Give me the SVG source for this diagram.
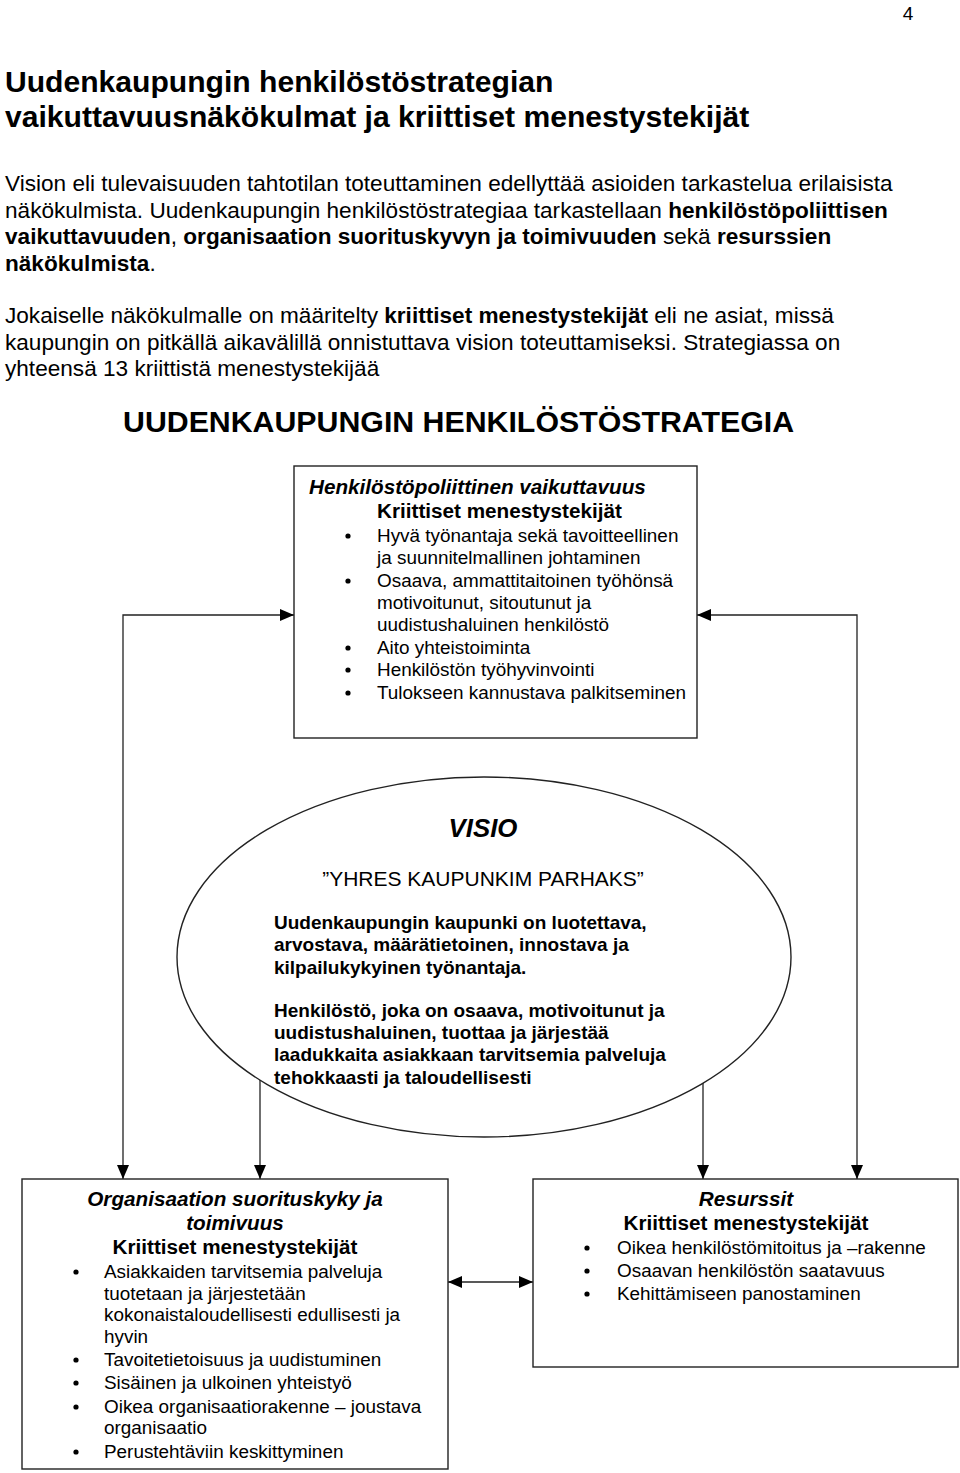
<svg xmlns="http://www.w3.org/2000/svg" width="960" height="1473" viewBox="0 0 960 1473">
<style>
text{font-family:"Liberation Sans",Arial,"DejaVu Sans",sans-serif;fill:#000}
.b{font-weight:bold}
.i{font-style:italic}
.title{font-size:30.1px;font-weight:bold}
.body{font-size:22.6px}
.hd{font-size:30.3px;font-weight:bold}
.bx{font-size:18.9px}
.bh{font-size:20.7px;font-weight:bold}
.vb{font-size:19px;font-weight:bold}
.box{fill:#fff;stroke:#222;stroke-width:1.4}
.dot{fill:#000}
.con{fill:none;stroke:#222;stroke-width:1.3}
</style>
<defs>
<marker id="arr" viewBox="0 0 14 12" markerWidth="14" markerHeight="12" refX="14" refY="6" orient="auto-start-reverse" markerUnits="userSpaceOnUse">
<path d="M0,0 L14,6 L0,12 z" fill="#000"/>
</marker>
</defs>
<rect width="960" height="1473" fill="#fff"/>

<g id="page-number"><text x="908" y="20" font-size="19" text-anchor="middle">4</text></g>

<g id="title">
<text class="title" x="5" y="92">Uudenkaupungin henkilöstöstrategian</text>
<text class="title" x="5" y="127">vaikuttavuusnäkökulmat ja kriittiset menestystekijät</text>
</g>

<g id="intro">
<text class="body" x="5" y="191">Vision eli tulevaisuuden tahtotilan toteuttaminen edellyttää asioiden tarkastelua erilaisista</text>
<text class="body" x="5" y="217.5">näkökulmista. Uudenkaupungin henkilöstöstrategiaa tarkastellaan <tspan class="b">henkilöstöpoliittisen</tspan></text>
<text class="body" x="5" y="244"><tspan class="b">vaikuttavuuden</tspan>, <tspan class="b">organisaation suorituskyvyn ja toimivuuden</tspan> sekä <tspan class="b">resurssien</tspan></text>
<text class="body" x="5" y="270.5"><tspan class="b">näkökulmista</tspan>.</text>
<text class="body" x="5" y="323">Jokaiselle näkökulmalle on määritelty <tspan class="b">kriittiset menestystekijät</tspan> eli ne asiat, missä</text>
<text class="body" x="5" y="349.5">kaupungin on pitkällä aikavälillä onnistuttava vision toteuttamiseksi. Strategiassa on</text>
<text class="body" x="5" y="376">yhteensä 13 kriittistä menestystekijää</text>
</g>

<g id="heading"><text class="hd" x="123" y="432">UUDENKAUPUNGIN HENKILÖSTÖSTRATEGIA</text></g>

<g id="connectors">
<path class="con" d="M294,615 L123,615 L123,1179" marker-start="url(#arr)" marker-end="url(#arr)"/>
<path class="con" d="M697,615 L857,615 L857,1179" marker-start="url(#arr)" marker-end="url(#arr)"/>
<path class="con" d="M260,1080 L260,1179" marker-end="url(#arr)"/>
<path class="con" d="M703,1083 L703,1179" marker-end="url(#arr)"/>
<path class="con" d="M448,1282 L533,1282" marker-start="url(#arr)" marker-end="url(#arr)"/>
</g>

<g id="node-henkilostopoliittinen">
<rect class="box" x="294" y="466" width="403" height="272"/>
<text class="bh i" x="309" y="494">Henkilöstöpoliittinen vaikuttavuus</text>
<text class="bh" x="377" y="518">Kriittiset menestystekijät</text>
<circle class="dot" cx="348" cy="536" r="2.6"/>
<text class="bx" x="377" y="542">Hyvä työnantaja sekä tavoitteellinen</text>
<text class="bx" x="377" y="564">ja suunnitelmallinen johtaminen</text>
<circle class="dot" cx="348" cy="581" r="2.6"/>
<text class="bx" x="377" y="587">Osaava, ammattitaitoinen työhönsä</text>
<text class="bx" x="377" y="609">motivoitunut, sitoutunut ja</text>
<text class="bx" x="377" y="631">uudistushaluinen henkilöstö</text>
<circle class="dot" cx="348" cy="648" r="2.6"/>
<text class="bx" x="377" y="654">Aito yhteistoiminta</text>
<circle class="dot" cx="348" cy="670" r="2.6"/>
<text class="bx" x="377" y="676">Henkilöstön työhyvinvointi</text>
<circle class="dot" cx="348" cy="693" r="2.6"/>
<text class="bx" x="377" y="699">Tulokseen kannustava palkitseminen</text>
</g>

<g id="node-visio">
<ellipse cx="484" cy="957" rx="307" ry="180" fill="none" stroke="#222" stroke-width="1.4"/>
<text class="b i" font-size="25.8" x="483" y="837" text-anchor="middle">VISIO</text>
<text font-size="21" x="483" y="886" text-anchor="middle">”YHRES KAUPUNKIM PARHAKS”</text>
<text class="vb" x="274" y="929">Uudenkaupungin kaupunki on luotettava,</text>
<text class="vb" x="274" y="951">arvostava, määrätietoinen, innostava ja</text>
<text class="vb" x="274" y="974">kilpailukykyinen työnantaja.</text>
<text class="vb" x="274" y="1017">Henkilöstö, joka on osaava, motivoitunut ja</text>
<text class="vb" x="274" y="1039">uudistushaluinen, tuottaa ja järjestää</text>
<text class="vb" x="274" y="1061">laadukkaita asiakkaan tarvitsemia palveluja</text>
<text class="vb" x="274" y="1084">tehokkaasti ja taloudellisesti</text>
</g>

<g id="node-organisaatio">
<rect class="box" x="22" y="1179" width="426" height="290"/>
<text class="bh i" x="235" y="1206" text-anchor="middle">Organisaation suorituskyky ja</text>
<text class="bh i" x="235" y="1230" text-anchor="middle">toimivuus</text>
<text class="bh" x="235" y="1254" text-anchor="middle">Kriittiset menestystekijät</text>
<circle class="dot" cx="76" cy="1272" r="2.6"/>
<text class="bx" x="104" y="1278">Asiakkaiden tarvitsemia palveluja</text>
<text class="bx" x="104" y="1300">tuotetaan ja järjestetään</text>
<text class="bx" x="104" y="1321">kokonaistaloudellisesti edullisesti ja</text>
<text class="bx" x="104" y="1343">hyvin</text>
<circle class="dot" cx="76" cy="1360" r="2.6"/>
<text class="bx" x="104" y="1366">Tavoitetietoisuus ja uudistuminen</text>
<circle class="dot" cx="76" cy="1383" r="2.6"/>
<text class="bx" x="104" y="1389">Sisäinen ja ulkoinen yhteistyö</text>
<circle class="dot" cx="76" cy="1407" r="2.6"/>
<text class="bx" x="104" y="1413">Oikea organisaatiorakenne – joustava</text>
<text class="bx" x="104" y="1434">organisaatio</text>
<circle class="dot" cx="76" cy="1452" r="2.6"/>
<text class="bx" x="104" y="1458">Perustehtäviin keskittyminen</text>
</g>

<g id="node-resurssit">
<rect class="box" x="533" y="1179" width="425" height="188"/>
<text class="bh i" x="746" y="1206" text-anchor="middle">Resurssit</text>
<text class="bh" x="746" y="1230" text-anchor="middle">Kriittiset menestystekijät</text>
<circle class="dot" cx="587" cy="1248" r="2.6"/>
<text class="bx" x="617" y="1254">Oikea henkilöstömitoitus ja –rakenne</text>
<circle class="dot" cx="587" cy="1271" r="2.6"/>
<text class="bx" x="617" y="1277">Osaavan henkilöstön saatavuus</text>
<circle class="dot" cx="587" cy="1294" r="2.6"/>
<text class="bx" x="617" y="1300">Kehittämiseen panostaminen</text>
</g>
</svg>
